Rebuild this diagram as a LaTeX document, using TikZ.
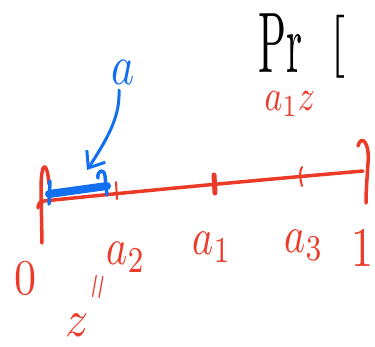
\documentclass[tikz,border=0pt]{standalone}
\usepackage{graphicx}
\usetikzlibrary{arrows.meta}
\definecolor{inkred}{RGB}{236,58,40}
\definecolor{inkblue}{RGB}{18,112,240}
\newcommand{\inksc}[3]{\scalebox{#1}[#2]{#3}}
\tikzset{
  redink/.style={draw=inkred, line width=3.5pt, line cap=round, line join=round},
  blueink/.style={draw=inkblue, line width=3.5pt, line cap=round, line join=round},
  redlabel/.style={text=inkred, inner sep=0pt},
  bluelabel/.style={text=inkblue, inner sep=0pt},
  blacklabel/.style={text=black, inner sep=0pt, anchor=base west, transform shape},
}
\begin{document}
\begin{tikzpicture}[x=1pt,y=-1pt]
\useasboundingbox (0,0) rectangle (375,346);
\clip (0,0) rectangle (375,346);
% coordinates on the line
\coordinate (L0) at (44,201);
\coordinate (L1) at (363,171);
% black title
\begin{scope}[shift={(258,72)}]
  \node[blacklabel, xscale=4.1, yscale=8.6] (pr) at (0,0) {Pr};
\end{scope}
\begin{scope}[shift={(329,62)}]
  \node[blacklabel, xscale=5.5, yscale=6.3] (brk) at (0,0) {[};
\end{scope}
% red top label
\node[redlabel] (a1z) at (290,104) {\inksc{3.4}{4.4}{$a_1z$}};
% main interval line
\draw[redink] (38,208) .. controls (38,203) and (41,201) .. (L0)
  .. controls (150,190) and (260,180) .. (L1);
% left bracket
\draw[redink] (42,243) -- (41,190) .. controls (41,160) and (47,160) .. (49,184);
% right bracket
\draw[redink] (358,146) .. controls (361,134) and (370,142) .. (368,163)
  .. controls (367,180) and (366,190) .. (366,203);
% ticks
\draw[redink, line width=2pt] (116,182) -- (117,199);
\draw[redink, line width=5pt] (214,175) -- (215,193);
\draw[redink, line width=2pt] (302,167) .. controls (299,172) and (300,178) .. (302,186);
% blue segment
\coordinate (b0) at (49,194);
\coordinate (b1) at (107,186);
\draw[blueink, line width=8pt] (b0) -- (b1);
\draw[blueink] (50,181) -- (49,204);
\draw[blueink] (98,178) .. controls (97,170) and (104,168) .. (105,176) -- (107,195);
% blue label and arrow
\node[bluelabel] (a) at (123,72) {\inksc{4.4}{5.6}{$a$}};
\coordinate (tip) at (87,170);
\draw[blueink, line width=3pt, -{Straight Barb[length=14pt,width=22pt,line width=3pt]}]
  (119,90) .. controls (120,115) and (110,135) .. (tip);
% lower labels
\node[redlabel] (zero) at (25,278) {\inksc{4.4}{5}{$0$}};
\node[redlabel] (a2) at (126,257) {\inksc{4}{5.2}{$a_2$}};
\node[redlabel] (a1) at (212,247) {\inksc{4}{5.2}{$a_1$}};
\node[redlabel] (a3) at (304,245) {\inksc{4}{5.2}{$a_3$}};
\node[redlabel] (one) at (362,248) {\inksc{4.4}{5.6}{$1$}};
\node[redlabel, rotate=80] (eq) at (100,287) {\inksc{3.4}{3.4}{$=$}};
\node[redlabel] (z) at (77,325) {\inksc{4.6}{5.2}{$z$}};
\end{tikzpicture}
\end{document}
